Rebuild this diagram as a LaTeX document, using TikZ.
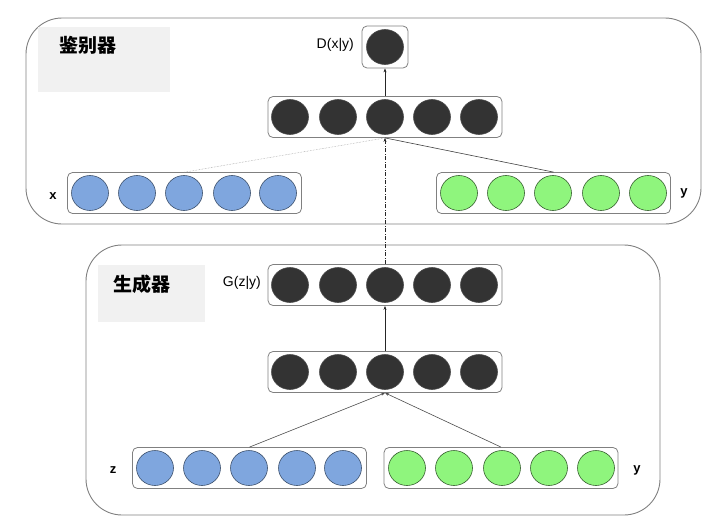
\documentclass[tikz,border=0pt]{standalone}
\usepackage{fontspec}
\setmainfont{Liberation Sans}
\newfontfamily\cjk{Noto Sans CJK SC}
\usetikzlibrary{shapes.geometric,arrows.meta}
\definecolor{dark}{HTML}{333333}
\definecolor{blueu}{HTML}{7FA6DE}
\definecolor{greenu}{HTML}{8FF57D}
\definecolor{frame}{HTML}{808080}
\definecolor{lab}{HTML}{F1F1F1}
\tikzset{
  outer/.style={draw=frame, line width=0.9pt, rounded corners=36pt},
  labbox/.style={fill=lab, draw=none},
  layerbox/.style={draw=frame, line width=0.8pt, rounded corners=5pt, minimum width=234pt, minimum height=41pt, inner sep=0pt},
  unit/.style={ellipse, minimum width=37pt, minimum height=35pt, inner sep=0pt, line width=0.6pt},
  darku/.style={unit, fill=dark, draw=black!70},
  blueunit/.style={unit, fill=blueu, draw=blueu!50!black},
  greenunit/.style={unit, fill=greenu, draw=greenu!40!black},
  lbl/.style={font=\fontsize{14}{16}\selectfont, inner sep=0pt},
  varl/.style={font=\bfseries\fontsize{13}{15}\selectfont, inner sep=0pt},
  cn/.style={font=\cjk\bfseries\fontsize{19}{21}\selectfont, inner sep=0pt},
  arr/.style={-{Stealth[length=4pt,width=3pt]}, line width=0.6pt, draw=black!85},
}
\begin{document}
\begin{tikzpicture}[x=1pt,y=-1pt]
\useasboundingbox (0,0) rectangle (720,530);
% outer frames
\draw[outer] (26,18) rectangle (701,224);
\draw[outer] (86,245) rectangle (660,515);
% label boxes
\fill[labbox] (38,27) rectangle (170,92);
\node[cn] (tD) at (88,45) {鉴别器};
\fill[labbox] (98,265) rectangle (205,322);
\node[cn] (tG) at (142,284) {生成器};

% D output
\node[draw=frame, line width=0.8pt, rounded corners=5pt, minimum width=46pt, minimum height=42pt] (dbox) at (385,47) {};
\node[darku] (dout) at (385,47) {};
\node[lbl, anchor=east] (dlab) at (354,45) {D(x|y)};

% discriminator hidden
\node[layerbox] (dh) at (385,117) {};
\foreach \i/\x in {1/290,2/338,3/385,4/432,5/479}
  \node[darku] (dh\i) at (\x,117) {};

% x input
\node[layerbox] (xbox) at (184.5,193) {};
\foreach \i/\x in {1/90,2/137,3/184,4/232,5/278}
  \node[blueunit] (x\i) at (\x,193) {};
\node[varl] (xlab) at (53,196) {x};

% y input top
\node[layerbox] (ybox) at (553.5,193) {};
\foreach \i/\x in {1/459,2/506,3/553,4/601,5/648}
  \node[greenunit] (yt\i) at (\x,193) {};
\node[varl] (ylab) at (684,193) {y};

% generator output
\node[layerbox] (gbox) at (385,285) {};
\foreach \i/\x in {1/290,2/338,3/385,4/432,5/479}
  \node[darku] (g\i) at (\x,285) {};
\node[lbl, anchor=east] (glab) at (261,283) {G(z|y)};

% generator hidden
\node[layerbox] (gh) at (385,372) {};
\foreach \i/\x in {1/290,2/338,3/385,4/432,5/479}
  \node[darku] (gh\i) at (\x,372) {};

% z input
\node[layerbox] (zbox) at (249.5,468) {};
\foreach \i/\x in {1/155,2/202,3/249,4/297,5/343}
  \node[blueunit] (z\i) at (\x,468) {};
\node[varl] (zlab) at (113,470) {z};

% y input bottom
\node[layerbox] (ybbox) at (501,468) {};
\foreach \i/\x in {1/407,2/454,3/502,4/549,5/596}
  \node[greenunit] (yb\i) at (\x,468) {};
\node[varl] (yblab) at (637,470) {y};

% connectors
\draw[arr] (dh.north) -- (dbox.south);
\draw[densely dotted, line width=0.5pt, draw=black!40] (xbox.north) -- (dh.south);
\draw[line width=0.6pt, draw=black!75] (ybox.north) -- (dh.south);
\draw[arr, dash pattern=on 4pt off 1.5pt on 1pt off 1.5pt] (gbox.north) -- (dh.south);
\draw[arr] (gh.north) -- (gbox.south);
\draw[arr, draw=black!70] (zbox.north) -- (gh.south);
\draw[arr, draw=black!70] (ybbox.north) -- (gh.south);
\end{tikzpicture}
\end{document}
